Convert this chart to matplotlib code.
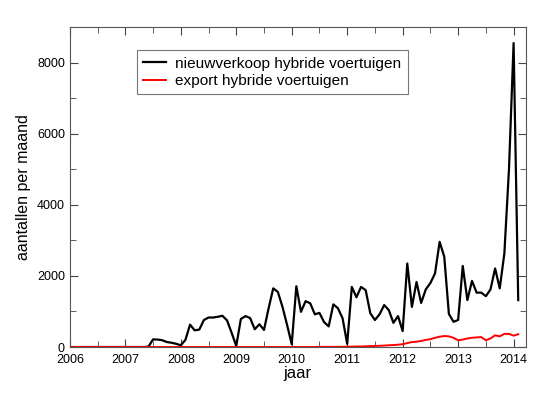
import matplotlib
matplotlib.use("Agg")
import matplotlib.pyplot as plt
from matplotlib.ticker import MultipleLocator
import numpy as np

plt.rcParams['font.family'] = ['Liberation Sans', 'DejaVu Sans']

# monthly values, Jan 2006 .. Feb 2014
nieuw = [
    # 2006
    0, 0, 0, 0, 0, 0, 0, 0, 0, 0, 0, 0,
    # 2007
    0, 0, 0, 0, 0, 10, 215, 210, 190, 140, 120, 90,
    # 2008
    50, 200, 630, 470, 490, 760, 830, 830, 850, 880, 750, 400,
    # 2009
    30, 790, 870, 815, 500, 640, 480, 1090, 1650, 1550, 1130, 620,
    # 2010
    80, 1710, 990, 1290, 1230, 920, 960, 700, 580, 1200, 1090, 810,
    # 2011
    90, 1690, 1400, 1690, 1600, 950, 760, 920, 1180, 1040, 680, 870,
    # 2012
    450, 2350, 1130, 1830, 1240, 1620, 1800, 2070, 2960, 2540, 930, 710,
    # 2013
    760, 2280, 1320, 1860, 1530, 1530, 1430, 1620, 2210, 1650, 2630, 5000,
    # 2014
    8550, 1320,
]

export = [
    # 2006
    0, 0, 0, 0, 0, 0, 0, 0, 0, 0, 0, 0,
    # 2007
    0, 0, 0, 0, 0, 0, 0, 0, 0, 0, 0, 0,
    # 2008
    0, 0, 0, 0, 0, 0, 0, 0, 0, 0, 0, 0,
    # 2009
    0, 0, 0, 0, 0, 0, 0, 0, 0, 0, 0, 0,
    # 2010
    0, 0, 0, 0, 0, 0, 5, 5, 5, 5, 5, 5,
    # 2011
    10, 10, 15, 15, 20, 25, 30, 35, 40, 50, 55, 65,
    # 2012
    80, 110, 140, 150, 170, 200, 220, 260, 290, 310, 300, 260,
    # 2013
    190, 210, 240, 260, 270, 280, 190, 240, 330, 300, 370, 370,
    # 2014
    320, 360,
]

jaar = 2006 + np.arange(len(nieuw)) / 12.0

fig = plt.figure(figsize=(5.5, 3.93), dpi=100)
ax = fig.add_axes([0.127, 0.117, 0.829, 0.814])

ax.plot(jaar, nieuw, color='black', lw=1.6, label='nieuwverkoop hybride voertuigen')
ax.plot(jaar, export, color='red', lw=1.4, label='export hybride voertuigen')

ax.set_xlim(2006, 2014.22)
ax.set_ylim(0, 9000)
ax.xaxis.set_major_locator(MultipleLocator(1))
ax.xaxis.set_minor_locator(MultipleLocator(0.5))
ax.yaxis.set_major_locator(MultipleLocator(2000))
ax.yaxis.set_minor_locator(MultipleLocator(1000))
ax.tick_params(which='both', direction='in', top=True, right=True,
               labelsize=9, color='#444444')
ax.tick_params(which='major', length=6)
ax.tick_params(which='minor', length=4)
ax.tick_params(axis='x', pad=5)
for sp in ax.spines.values():
    sp.set_color('#555555')

ax.set_xlabel('jaar', fontsize=12, labelpad=0)
ax.set_ylabel('aantallen per maand', fontsize=11.5)

leg = ax.legend(loc='upper left', bbox_to_anchor=(0.147, 0.927), fontsize=11.1,
                frameon=True, fancybox=False, edgecolor='#555555',
                handlelength=1.5, handletextpad=0.6, borderpad=0.4,
                labelspacing=0.22, borderaxespad=0)
leg.get_frame().set_linewidth(0.8)

fig.savefig('out.png', dpi=100)
